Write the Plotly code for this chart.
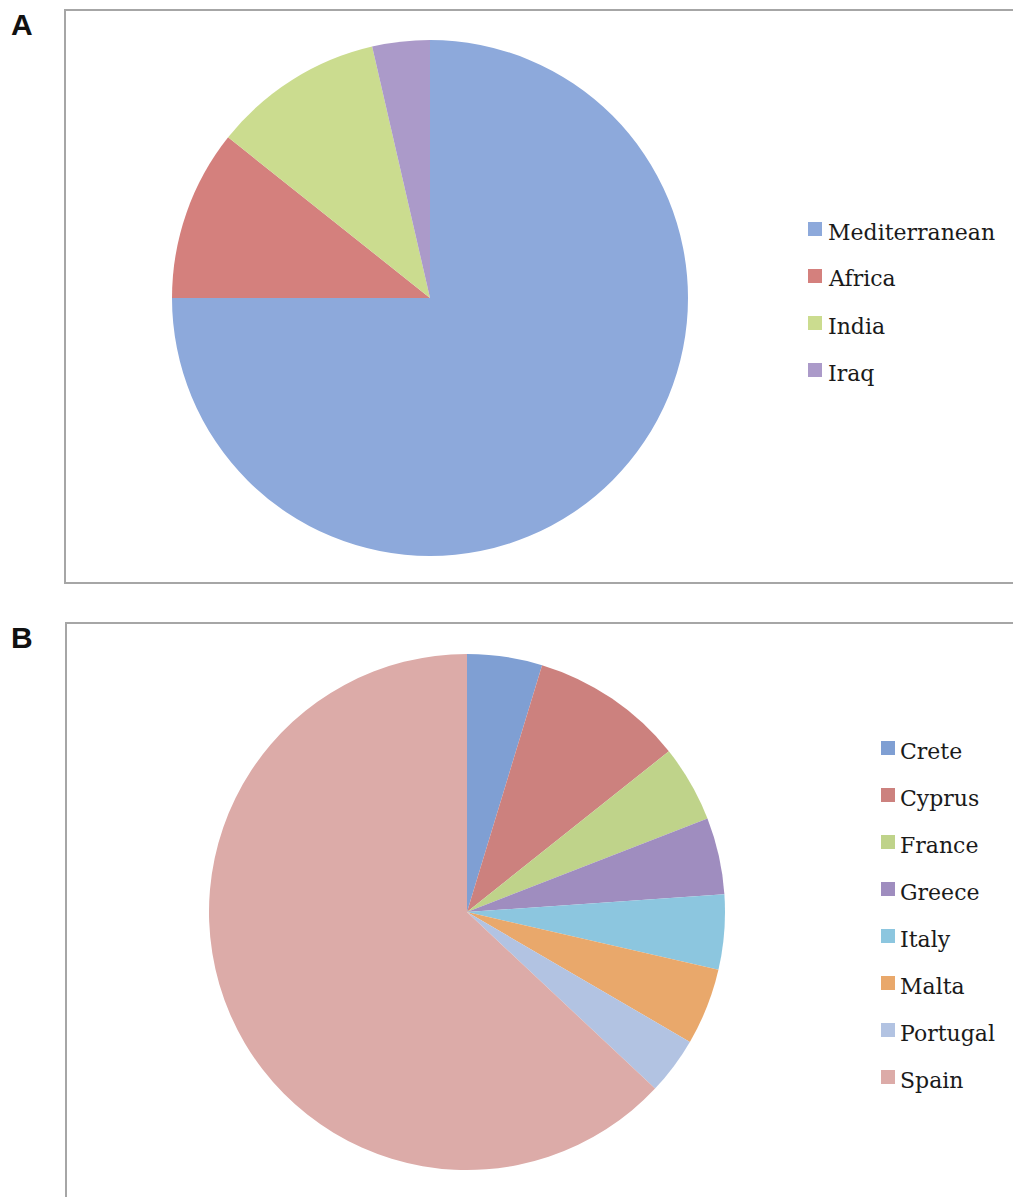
import plotly.graph_objects as go

W, H = 1013, 1197

# ---- Data ----
regions = ["Mediterranean", "Africa", "India", "Iraq"]
region_share = [75.0, 10.7, 10.7, 3.6]
region_colors = ["#8DA9DB", "#D4807D", "#CBDC8F", "#AB9AC9"]

countries = ["Crete", "Cyprus", "France", "Greece", "Italy", "Malta", "Portugal", "Spain"]
country_share = [4.7, 9.6, 4.8, 4.8, 4.7, 4.8, 3.6, 63.0]
country_colors = ["#7F9FD3", "#CC817E", "#BFD38A", "#9F8DBF", "#8CC6DF", "#E9A86B", "#B2C3E2", "#DCABA8"]


def px_x(x):
    return x / W


def px_y(y):
    return 1 - y / H


fig = go.Figure()

# Pie A: centre (430, 298), radius 258
fig.add_trace(go.Pie(
    labels=regions, values=region_share, sort=False, direction="clockwise", rotation=0,
    marker=dict(colors=region_colors, line=dict(width=0)),
    textinfo="none", hoverinfo="label+percent", showlegend=False,
    domain=dict(x=[px_x(430 - 258), px_x(430 + 258)], y=[px_y(298 + 258), px_y(298 - 258)]),
))

# Pie B: centre (467, 912), radius 258
fig.add_trace(go.Pie(
    labels=countries, values=country_share, sort=False, direction="clockwise", rotation=0,
    marker=dict(colors=country_colors, line=dict(width=0)),
    textinfo="none", hoverinfo="label+percent", showlegend=False,
    domain=dict(x=[px_x(467 - 258), px_x(467 + 258)], y=[px_y(912 + 258), px_y(912 - 258)]),
))

shapes = []
annotations = []

# panel boxes
box_col = "#A6A6A6"
shapes.append(dict(type="rect", xref="paper", yref="paper",
                   x0=px_x(65), x1=px_x(1020), y0=px_y(583), y1=px_y(10),
                   line=dict(color=box_col, width=2), fillcolor="rgba(0,0,0,0)", layer="below"))
shapes.append(dict(type="rect", xref="paper", yref="paper",
                   x0=px_x(66), x1=px_x(1020), y0=px_y(1205), y1=px_y(623),
                   line=dict(color=box_col, width=2), fillcolor="rgba(0,0,0,0)", layer="below"))

# panel letters
for letter, (lx, ly) in [("A", (22, 24)), ("B", (22, 637))]:
    annotations.append(dict(text="<b>%s</b>" % letter, xref="paper", yref="paper",
                            x=px_x(lx), y=px_y(ly), xanchor="center", yanchor="middle",
                            showarrow=False,
                            font=dict(family="Liberation Sans, Arial, sans-serif", size=30, color="#111111")))


def add_legend(labels, colors, mx, tx, y0, step):
    for i, (lab, col) in enumerate(zip(labels, colors)):
        yc = y0 + i * step
        shapes.append(dict(type="rect", xref="paper", yref="paper",
                           x0=px_x(mx - 7), x1=px_x(mx + 7), y0=px_y(yc - 3 + 7), y1=px_y(yc - 3 - 7),
                           line=dict(width=0), fillcolor=col))
        annotations.append(dict(text=lab, xref="paper", yref="paper",
                                x=px_x(tx), y=px_y(yc), xanchor="left", yanchor="middle",
                                showarrow=False,
                                font=dict(family="DejaVu Serif, serif", size=22, color="#1A1A1A")))


add_legend(regions, region_colors, 815, 826, 232, 47)
add_legend(countries, country_colors, 888, 898, 751, 47)

fig.update_layout(
    width=W, height=H,
    margin=dict(l=0, r=0, t=0, b=0),
    paper_bgcolor="white", plot_bgcolor="white",
    shapes=shapes, annotations=annotations,
    showlegend=False,
)

fig.write_html("out.html",
               config={"displayModeBar": False},
               post_script="document.body.style.margin='0';document.body.style.overflow='hidden';")
